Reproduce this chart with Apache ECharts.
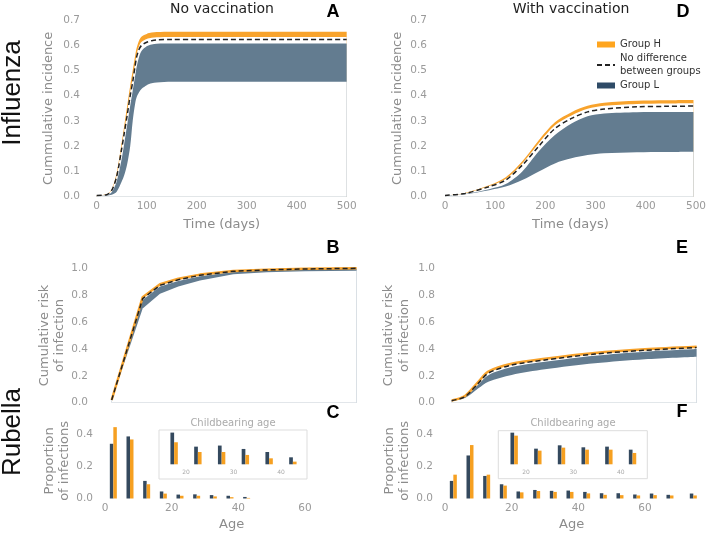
<!DOCTYPE html>
<html><head><meta charset="utf-8">
<script src="https://cdn.jsdelivr.net/npm/echarts@6/dist/echarts.min.js"></script>
<style>html,body{margin:0;padding:0;background:#fff}#c{width:709px;height:533px}</style>
</head><body><div id="c"></div><script>
// ---------- Influenza, no vaccination (A) ----------
const fluDays = [0, 20, 30, 40, 50, 55, 61, 67, 72, 77, 80, 85, 90, 100, 110, 120, 150, 200, 500];
const fluNoVacHTop    = [0.006,0.010,0.030,0.095,0.215,0.280,0.360,0.440,0.500,0.560,0.590,0.620,0.635,0.645,0.650,0.652,0.653,0.653,0.653];
const fluNoVacHBottom = [0.005,0.009,0.027,0.085,0.200,0.260,0.335,0.415,0.470,0.530,0.565,0.598,0.614,0.625,0.630,0.632,0.633,0.633,0.633];
const fluNoVacNoDiff  = [0.005,0.008,0.025,0.080,0.190,0.250,0.323,0.400,0.455,0.520,0.555,0.585,0.600,0.612,0.618,0.621,0.623,0.623,0.623];
const fluNoVacLTop    = [0.004,0.006,0.018,0.060,0.150,0.210,0.285,0.360,0.420,0.480,0.515,0.555,0.578,0.596,0.603,0.606,0.607,0.607,0.607];
const fluNoVacLBottom = [0.004,0.005,0.008,0.020,0.060,0.085,0.130,0.200,0.300,0.370,0.395,0.415,0.428,0.442,0.449,0.452,0.455,0.455,0.455];
// ---------- Influenza, with vaccination (D) ----------
const fluVacDays = [0, 40, 88, 121, 154, 186, 219, 252, 284, 317, 382, 440, 495];
const fluVacHTop    = [0.005,0.015,0.045,0.077,0.140,0.222,0.295,0.335,0.360,0.372,0.380,0.382,0.383];
const fluVacHBottom = [0.005,0.013,0.042,0.070,0.132,0.210,0.283,0.322,0.348,0.360,0.367,0.369,0.370];
const fluVacNoDiff  = [0.005,0.013,0.040,0.066,0.125,0.198,0.270,0.310,0.336,0.347,0.356,0.358,0.359];
const fluVacLTop    = [0.004,0.011,0.030,0.050,0.100,0.178,0.244,0.290,0.319,0.330,0.335,0.336,0.336];
const fluVacLBottom = [0.004,0.010,0.026,0.040,0.066,0.099,0.132,0.152,0.165,0.172,0.176,0.177,0.178];
// ---------- Rubella cumulative risk (B, E) ----------
const riskAgesNoVac = [2, 11.3, 16.5, 22, 28.5, 38.5, 48.5, 60, 75.5];
const riskNoVacH      = [0.02,0.785,0.882,0.922,0.953,0.980,0.990,0.996,1.000];
const riskNoVacNoDiff = [0.02,0.774,0.873,0.915,0.948,0.978,0.988,0.995,1.000];
const riskNoVacLTop   = [0.02,0.765,0.865,0.905,0.940,0.972,0.985,0.993,0.998];
const riskNoVacLBottom= [0.02,0.700,0.810,0.865,0.910,0.955,0.970,0.978,0.982];
const riskAgesVac = [2, 6, 10, 13, 20, 30, 45, 60, 75.5];
const riskVacH      = [0.017,0.050,0.155,0.232,0.290,0.327,0.370,0.397,0.416];
const riskVacNoDiff = [0.015,0.045,0.144,0.220,0.280,0.318,0.362,0.390,0.410];
const riskVacLTop   = [0.015,0.042,0.135,0.205,0.265,0.305,0.350,0.380,0.400];
const riskVacLBottom= [0.015,0.035,0.107,0.156,0.206,0.248,0.293,0.323,0.342];
// ---------- Rubella age distribution of infections (C, F) ----------
const propAgesNoVac = [2.5, 7.5, 12.5, 17.5, 22.5, 27.5, 32.5, 37.5, 42.5];
const propNoVacL = [0.342,0.388,0.110,0.044,0.0245,0.026,0.0213,0.0171,0.0097];
const propNoVacH = [0.446,0.369,0.089,0.0306,0.0171,0.0171,0.013,0.0083,0.0037];
const propAgesVac = [2.5, 7.5, 12.5, 17.5, 22.5, 27.5, 32.5, 37.5, 42.5, 47.5, 52.5, 57.5, 62.5, 67.5, 74.5];
const propVacL = [0.110,0.269,0.141,0.089,0.044,0.0534,0.0478,0.0497,0.0412,0.033,0.033,0.025,0.031,0.023,0.031];
const propVacH = [0.149,0.334,0.149,0.0806,0.0384,0.0469,0.0412,0.0412,0.0319,0.023,0.021,0.019,0.021,0.019,0.019];
const childbearingRange = [15, 45];

const C_ORANGE = '#F8A32C', C_BAND = '#637C90', C_DARK = '#34495E', C_ORBAR = '#F6A021';
const FONT = '"DejaVu Sans", sans-serif';
const zip = (xs, ys) => xs.map((x, i) => [x, ys[i]]);

// a band = fill under its upper edge, then a white fill under its lower edge
function band(gi, xs, lo, hi, color, name, smooth) {
  const common = {type:'line', xAxisIndex:gi, yAxisIndex:gi, symbol:'none', smooth,
    lineStyle:{width:0, opacity:0}, silent:true, clip:false};
  return [
    Object.assign({}, common, {name, data:zip(xs, hi), itemStyle:{color}, areaStyle:{color, opacity:1}}),
    Object.assign({}, common, {name:name + ' (lower)', data:zip(xs, lo), itemStyle:{color:'#fff'}, areaStyle:{color:'#ffffff', opacity:1}})
  ];
}
function dashed(gi, xs, ys, name, smooth) {
  return {type:'line', name, xAxisIndex:gi, yAxisIndex:gi, data:zip(xs, ys), symbol:'none', smooth,
    itemStyle:{color:'#222'}, lineStyle:{color:'#222', width:1.5, type:[5,3]}, silent:true, clip:false, z:5};
}
function orangeLine(gi, xs, ys, smooth) {
  return {type:'line', name:'H' + gi, xAxisIndex:gi, yAxisIndex:gi, data:zip(xs, ys), symbol:'none', smooth,
    lineStyle:{color:C_ORANGE, width:2.5}, silent:true, clip:false, z:3};
}
function bars(gi, xs, ys, color, name, w) {
  return {type:'bar', name, xAxisIndex:gi, yAxisIndex:gi, data:zip(xs, ys), barWidth:w, barGap:'0%',
    itemStyle:{color}, silent:true};
}
const inRange = (xs, ys) => { const o = [[], []]; xs.forEach((x, i) => { if (x >= childbearingRange[0] && x <= childbearingRange[1]) { o[0].push(x); o[1].push(ys[i]); } }); return o; };

const lbl = (extra) => Object.assign({color:'#9a9a9a', fontSize:10.5, fontFamily:FONT}, extra);
const nameStyle = {color:'#8c8c8c', fontSize:13, fontFamily:FONT, lineHeight:15.5};
const hide = {axisLine:{show:false}, axisTick:{show:false}, splitLine:{show:false}};
const f1 = v => v.toFixed(1);

const grids = [
  {left:96.7, top:20, width:250, height:176.7},      // A
  {left:445, top:20, width:255, height:176.7},       // D
  {left:105, top:268.3, width:253.3, height:134.4},  // B
  {left:445, top:268.3, width:253.3, height:134.4},  // E
  {left:105, top:423.3, width:253.3, height:75.7},   // C
  {left:445, top:423.3, width:253.3, height:75.7},   // F
  {left:138.5, top:430, width:190, height:34.3},     // C inset
  {left:478.65, top:430.7, width:189.4, height:33.6} // F inset
];
const xAxes = [
  Object.assign({gridIndex:0, type:'value', min:0, max:500, interval:100, axisLabel:lbl({margin:4}),
    name:'Time (days)', nameLocation:'middle', nameGap:20, nameTextStyle:nameStyle}, hide),
  Object.assign({gridIndex:1, type:'value', min:0, max:500, interval:100, axisLabel:lbl({margin:4}),
    name:'Time (days)', nameLocation:'middle', nameGap:20, nameTextStyle:nameStyle}, hide),
  Object.assign({gridIndex:2, type:'value', min:0, max:76, axisLabel:{show:false}}, hide),
  Object.assign({gridIndex:3, type:'value', min:0, max:76, axisLabel:{show:false}}, hide),
  Object.assign({gridIndex:4, type:'value', min:0, max:76, interval:20, axisLabel:lbl({margin:4, showMaxLabel:false}),
    name:'Age', nameLocation:'middle', nameGap:18, nameTextStyle:nameStyle}, hide),
  Object.assign({gridIndex:5, type:'value', min:0, max:76, interval:20, axisLabel:lbl({margin:4, showMaxLabel:false}),
    name:'Age', nameLocation:'middle', nameGap:18, nameTextStyle:nameStyle}, hide),
  Object.assign({gridIndex:6, type:'value', min:10, max:50, interval:10, axisLabel:lbl({fontSize:6, margin:5, color:'#aaa', showMinLabel:false, showMaxLabel:false})}, hide),
  Object.assign({gridIndex:7, type:'value', min:10, max:50, interval:10, axisLabel:lbl({fontSize:6, margin:5, color:'#aaa', showMinLabel:false, showMaxLabel:false})}, hide)
];
const yAxes = [
  Object.assign({gridIndex:0, type:'value', min:0, max:0.7, interval:0.1, axisLabel:lbl({margin:16.7, formatter:f1}),
    name:'Cummulative incidence', nameLocation:'middle', nameGap:40, nameTextStyle:nameStyle}, hide),
  Object.assign({gridIndex:1, type:'value', min:0, max:0.7, interval:0.1, axisLabel:lbl({margin:18, formatter:f1}),
    name:'Cummulative incidence', nameLocation:'middle', nameGap:40, nameTextStyle:nameStyle}, hide),
  Object.assign({gridIndex:2, type:'value', min:0, max:1, interval:0.2, axisLabel:lbl({margin:17, formatter:f1}),
    name:'Cumulative risk\nof infection', nameLocation:'middle', nameGap:29, nameTextStyle:nameStyle}, hide),
  Object.assign({gridIndex:3, type:'value', min:0, max:1, interval:0.2, axisLabel:lbl({margin:10, formatter:f1}),
    name:'Cumulative risk\nof infection', nameLocation:'middle', nameGap:33, nameTextStyle:nameStyle}, hide),
  Object.assign({gridIndex:4, type:'value', min:0, max:0.47, interval:0.2, axisLabel:lbl({margin:12, formatter:f1, showMaxLabel:false}),
    name:'Proportion\nof infections', nameLocation:'middle', nameGap:27, nameTextStyle:nameStyle}, hide),
  Object.assign({gridIndex:5, type:'value', min:0, max:0.47, interval:0.2, axisLabel:lbl({margin:12, formatter:f1, showMaxLabel:false}),
    name:'Proportion\nof infections', nameLocation:'middle', nameGap:29.5, nameTextStyle:nameStyle}, hide),
  Object.assign({gridIndex:6, type:'value', min:0, max:0.0476, axisLabel:{show:false}}, hide),
  Object.assign({gridIndex:7, type:'value', min:0, max:0.0945, axisLabel:{show:false}}, hide)
];

const insC_L = inRange(propAgesNoVac, propNoVacL), insC_H = inRange(propAgesNoVac, propNoVacH);
const insF_L = inRange(propAgesVac, propVacL), insF_H = inRange(propAgesVac, propVacH);
const SM = 0.3;
const series = [].concat(
  band(0, fluDays, fluNoVacHBottom, fluNoVacHTop, C_ORANGE, 'H0', SM),
  band(0, fluDays, fluNoVacLBottom, fluNoVacLTop, C_BAND, 'L0', SM),
  [dashed(0, fluDays, fluNoVacNoDiff, 'N0', SM)],
  band(1, fluVacDays, fluVacHBottom, fluVacHTop, C_ORANGE, 'Group H', SM),
  band(1, fluVacDays, fluVacLBottom, fluVacLTop, C_BAND, 'Group L', SM),
  [dashed(1, fluVacDays, fluVacNoDiff, 'No difference\nbetween groups', SM)],
  band(2, riskAgesNoVac, riskNoVacLBottom, riskNoVacLTop, C_BAND, 'L2', false),
  [orangeLine(2, riskAgesNoVac, riskNoVacH, false)],
  [dashed(2, riskAgesNoVac, riskNoVacNoDiff, 'N2', false)],
  band(3, riskAgesVac, riskVacLBottom, riskVacLTop, C_BAND, 'L3', SM),
  [orangeLine(3, riskAgesVac, riskVacH, SM)],
  [dashed(3, riskAgesVac, riskVacNoDiff, 'N3', SM)],
  [bars(4, propAgesNoVac, propNoVacL, C_DARK, 'cL', 3.5), bars(4, propAgesNoVac, propNoVacH, C_ORBAR, 'cH', 3.5)],
  [bars(5, propAgesVac, propVacL, C_DARK, 'fL', 3.5), bars(5, propAgesVac, propVacH, C_ORBAR, 'fH', 3.5)],
  [bars(6, insC_L[0], insC_L[1], C_DARK, 'icL', 3.7), bars(6, insC_H[0], insC_H[1], C_ORBAR, 'icH', 3.7)],
  [bars(7, insF_L[0], insF_L[1], C_DARK, 'ifL', 3.7), bars(7, insF_H[0], insF_H[1], C_ORBAR, 'ifH', 3.7)]
);

const txt = (text, x, y, font, fill, rot) => ({type:'text', x, y, z:100, rotation:rot || 0, silent:true,
  style:{text, font, fill, align:'center', verticalAlign:'middle'}});
const LETTER = 'bold 18px "Liberation Sans", Arial, sans-serif';
const graphic = [
  txt('No vaccination', 222, 9, '14px ' + FONT, '#222'),
  txt('With vaccination', 571, 9, '14px ' + FONT, '#222'),
  txt('A', 333, 12, LETTER, '#000'),
  txt('B', 333, 248, LETTER, '#000'),
  txt('C', 333, 413, LETTER, '#000'),
  txt('D', 683, 12, LETTER, '#000'),
  txt('E', 682, 248, LETTER, '#000'),
  txt('F', 682, 412, LETTER, '#000'),
  txt('Influenza', 13, 93, '26px "Liberation Sans", Arial, sans-serif', '#111', Math.PI / 2),
  txt('Rubella', 13, 432, '26px "Liberation Sans", Arial, sans-serif', '#111', Math.PI / 2),
  txt('Childbearing age', 233, 423, '10px ' + FONT, '#aaa'),
  txt('Childbearing age', 573, 423, '10px ' + FONT, '#aaa'),
  {type:'rect', silent:true, z:100, shape:{x:159, y:430, width:148, height:49}, style:{fill:'none', stroke:'#dddddd', lineWidth:1}},
  {type:'rect', silent:true, z:100, shape:{x:498.3, y:430.7, width:149, height:48}, style:{fill:'none', stroke:'#dddddd', lineWidth:1}}
];

const chart = echarts.init(document.getElementById('c'), null, {renderer:'canvas'});
chart.setOption({
  animation:false,
  backgroundColor:'#fff',
  grid:grids, xAxis:xAxes, yAxis:yAxes, series, graphic,
  legend:{left:591, top:33, orient:'vertical', itemWidth:18, itemHeight:6, itemGap:1, selectedMode:false,
    textStyle:{fontSize:10, fontFamily:FONT, color:'#333', lineHeight:13},
    data:[
      {name:'Group H', icon:'rect', itemStyle:{color:'#FFA51E', borderWidth:0}},
      {name:'No difference\nbetween groups', itemStyle:{opacity:0}},
      {name:'Group L', icon:'rect', itemStyle:{color:'#2F4B67', borderWidth:0}}
    ]}
});
</script></body></html>
